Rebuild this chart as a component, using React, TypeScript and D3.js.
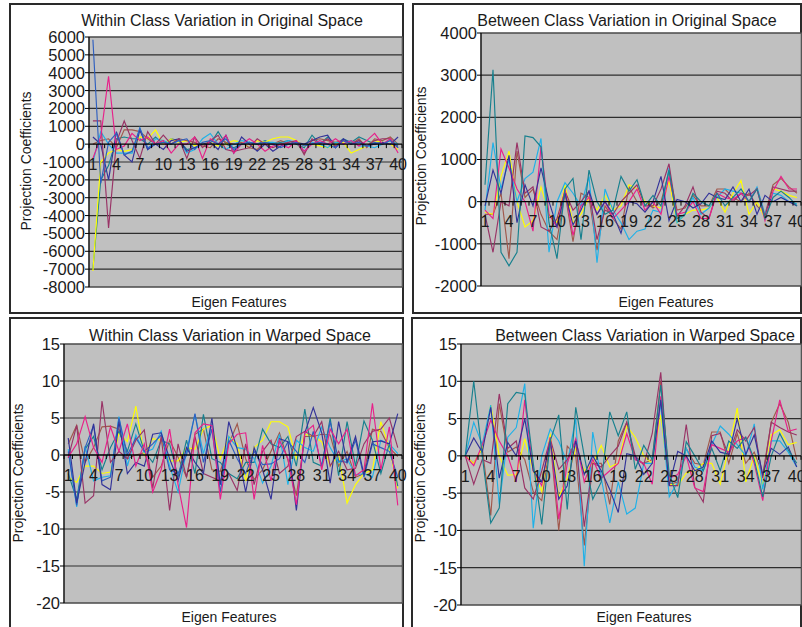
import React from 'react'
import * as d3 from 'd3'

// eigen feature index 1..40
const features = d3.range(1, 41)
const featureLabels = features.filter((d) => (d - 1) % 3 === 0)

const seriesColors: Record<string, string> = {
  navy: '#333399',
  blue: '#2f5fbf',
  magenta: '#e8208a',
  yellow: '#ffff00',
  cyan: '#1fb1e8',
  teal: '#17808e',
  brown: '#a0584c',
  plum: '#993366',
}

// Within class variation, original space
const withinOrigTicks = [6000, 5000, 4000, 3000, 2000, 1000, 0, -1000, -2000, -3000, -4000, -5000, -6000, -7000, -8000]
const withinOrig: Record<string, number[]> = {
  teal: [-7000, -2000, -1200, 300, 400, 300, 300, 0, 400, 0, 300, 200, -300, -200, 0, 0, 700, 0, -200, 0, 100, 0, 200, 0, 100, 200, 0, -200, 500, 0, 400, 0, 300, 100, 400, 200, 0, 100, 0, -100],
  yellow: [-7100, -1000, -500, -300, -400, -300, 400, 300, 800, 0, 300, 100, 200, -100, 0, 100, -100, 0, 200, 100, -200, 200, 100, 300, 400, 400, 200, -100, 0, -100, -200, 0, 100, -500, -300, -100, 200, 100, 0, -300],
  brown: [0, 200, 300, -200, 800, 800, 700, 300, 0, 100, 0, 300, 200, 100, -100, -200, 300, 100, 0, 100, -200, -300, 100, 0, 200, 0, 100, -500, 200, 300, 200, 100, 200, 0, 300, -200, 300, 200, 400, 0],
  cyan: [-1000, 700, 0, -500, -500, -500, 900, -300, 300, 200, 0, 200, -500, -300, 300, 600, 0, -300, 0, 200, 100, 0, 100, 100, 0, 200, 100, -400, 100, 0, -200, 100, 0, 200, -100, -100, -200, 0, 200, 0],
  navy: [400, 0, -2000, 700, -600, -1000, 800, -300, 0, -300, 200, 300, -400, -200, 0, 100, -300, 500, -500, 400, 0, -400, 0, -400, -100, 0, 100, 0, 200, 400, 500, -200, 300, 0, 200, -100, 0, 100, 0, 400],
  plum: [1300, 1300, -4700, 100, 1300, 200, -800, 700, 0, 500, 0, 300, -800, 400, -200, 200, 500, -300, -400, -300, -200, 300, 0, -200, 0, 100, 200, -600, 300, 0, 300, -100, 200, 0, 200, -100, 200, 300, 300, -200],
  magenta: [-800, 400, 3800, -300, -100, 600, 200, 400, 0, 200, -500, 0, 0, 400, -800, 300, 0, 500, -500, 0, 300, 0, -400, -100, 0, -200, 200, -400, 0, 200, 0, 300, 0, 200, -100, 200, 600, 0, 300, -500],
  blue: [5850, -2200, 100, 600, -600, -400, 900, -200, 0, 100, 0, 200, 300, -300, 100, 200, 0, 300, -300, 0, 100, 0, 100, 0, -200, 0, 100, -100, 0, 100, 0, -200, 200, 0, 100, -100, 100, 0, 200, -200],
}

// Between class variation, original space
const betweenOrigTicks = [4000, 3000, 2000, 1000, 0, -1000, -2000]
const betweenOrig: Record<string, number[]> = {
  brown: [-300, -300, 200, -1350, 1200, 100, 300, -300, -700, -900, 200, -950, 200, 100, -1150, -100, -400, -650, 350, 0, 0, -150, 0, 700, -200, -150, 150, -100, -100, 300, 300, 100, 0, 200, -100, -300, 400, 550, 350, 200],
  yellow: [-250, -300, 600, 1200, 0, -600, -450, 350, -300, -500, 400, -500, -300, 100, -200, 150, -200, -100, 400, 300, 0, -100, -150, 500, -500, -300, -200, -200, -150, 100, -250, 200, 500, -300, 0, -400, 300, 250, 150, 100],
  cyan: [-200, 1400, 300, 1000, 0, 550, 700, 1500, -1200, 0, 450, 200, -100, 600, -1450, 300, -200, -500, -900, -700, -650, -200, -250, 800, -500, -300, 100, -300, -150, 100, 300, 250, 200, 0, 350, -300, 200, 150, 0, -50],
  plum: [-300, -1200, 0, -100, 1400, 200, 350, -600, -700, -400, 250, -200, 0, 250, -900, -200, -300, 0, 200, 400, -100, -100, 300, 900, -350, -100, 350, -250, -400, 250, 200, 0, 200, 150, 300, -350, 350, 300, 250, 250],
  magenta: [-200, -400, 1250, 800, 300, 0, -700, 1300, -300, -600, 300, -800, -100, 100, -300, 0, -400, -200, 0, 300, -200, 0, -300, 600, -300, -250, 0, -400, -400, 200, 100, 50, 200, 0, 300, -450, 250, 600, 300, 300],
  navy: [-100, 750, 200, 1100, -500, 400, -100, 800, 0, -600, 200, -550, -200, 250, -300, 0, -300, -750, 0, -50, -250, 0, 600, -450, 50, 0, -150, -50, 200, 100, 50, 350, 0, 300, -300, 150, 0, 100, 0, -100],
  teal: [400, 3130, -1200, -1520, -1200, 1560, 1520, 1300, -500, -1350, 300, 550, -900, 750, 0, -300, -200, 600, 250, 520, -100, 150, -100, 750, -400, -300, 200, 0, -100, 200, -100, 100, 300, 0, 300, -400, 100, 250, 100, -100],
}

// Within class variation, warped space
const warpedTicks = [15, 10, 5, 0, -5, -10, -15, -20]
const withinWarp: Record<string, number[]> = {
  brown: [1.5, 4, -1, 1, 3.8, 3.9, 3.5, -0.5, 0, 0.3, -3, -1.5, 2, -0.3, -3, 2.8, 3.5, -2, -2.2, 1.5, 4.2, -0.5, -3.3, -2, 0.5, 3, -0.7, -5.5, 2.5, 2.5, 2.8, 2.7, -1.5, 0.5, -3, -2.5, 3.5, 3.2, 1, -0.2],
  yellow: [-3, -3.7, -1.5, -1.5, -2.5, -2.3, 3, 1.8, 6.6, 0, 2.2, 2, -0.8, -0.8, 1, 0.8, 3.5, 4, -0.5, 2.5, 1.5, -3.5, 1, 2, 4.5, 4.5, 3.8, -0.5, 2.8, 2.5, 1.8, -1.5, 0, -6.5, -4, -2.5, -2, 4.5, 1, -4.5],
  teal: [-2.5, -6, 0.8, 2.5, -2, 1, 3.2, 0.5, 4.2, 0.5, -1, 2, 1.5, -3, 2, -2.5, 5.5, -0.5, -1, -2.5, -3.2, -1, -1, 3.5, 1.5, 1, 2.5, -1.5, 6.2, -1, -1.5, 5, -2.8, 4.5, -1.5, 4.6, 2, -2.5, 1.5, -4.2],
  cyan: [0.8, -7, 1.2, -3.5, -3, -2.8, 5.2, -1.5, 2.7, 0.3, 0.8, 3.2, -1.5, -5, 0.5, 5.5, 0.2, 4.2, -4, 2.5, 1, 0.8, -0.5, -3.8, -1.5, 2.8, -4, 2, 1, 0.5, 3.8, 1, -1, -0.5, -2.7, -2.5, -3, 2, 1.5, 0.2],
  blue: [0.5, -6.8, 1, 4, -3.5, -3, 5, 0, 2.3, 0.5, 1.5, 2.7, -2, -2.5, 0, 5.6, -1, 3.5, -5, 2, -0.5, -2.5, 0.5, -1.3, -1.2, -0.5, 1.8, 0.5, -1, 3.2, -1.5, 4.5, -0.8, -1, 2, -3, 1.5, 1, 0.5, -3],
  plum: [-0.4, 4, -6.5, -5.5, 7.3, -1, 0.5, -0.5, 2, 3.4, -4.5, 2.5, -7.5, 1.5, -3, 2.5, -2.5, -3, -3.5, -2.5, -4.8, 1.5, -4, 0.5, 2, -2.5, -1.5, 2.5, 3.2, 2.5, 4.5, -1.5, 0.5, -2, -1.8, 1.5, 3.2, 3.5, 5, 1],
  navy: [2.3, -6.5, -1, 4.2, -4, -4.7, 4.5, -2.5, -1, -1.5, 2.8, 3, -0.5, -3.5, 1, -1, -2.5, 5, -4, 4.5, 0.8, -5, 1, -2, -6, 2.2, 1.8, -7.5, 3, 6.4, 3, -3.8, 4.5, -1, 2.5, -2.7, 1.8, 1.9, 1.5, 5.6],
  magenta: [-0.3, 1.5, 5.2, 1, -1, 3.8, 0.5, 4.2, -1.5, 1.5, -5, -2, 3.5, -4, -9.8, 3, 4.2, 4, -6, 1.5, 2.8, 3, -6, 1.3, -3.5, 2, -0.5, -6.7, 3, 4, -2, 3.5, 1.5, 3.5, -2.8, -2, 7, -2, 3.8, -6.8],
}

// Between class variation, warped space
const betweenWarp: Record<string, number[]> = {
  brown: [0, -1, 1, -8, 7, 0.5, 1.2, -0.5, -4.8, -6, 2, -10, 1.3, 0, -12, -1, -1, -6.5, 2, 4.5, -0.5, -1, -0.5, 10, -3.8, -3.5, 1, -1, -1.2, 3.2, 3.2, -1, 3, -1, 0.5, -2.5, 4.5, 7, 4.5, -0.5],
  yellow: [0, -1, 1, 6.8, 0, -2.6, -2.5, 2.3, -2, -4.8, 3, -5.5, -3, 1, -2, -1, 1.4, -1.5, -1, 4, 2.5, 0, -1, 5.5, -3.8, -4, -2.3, -2, -1, -1, -3.8, 1, 6.4, -3.5, 0, -4, 2.8, 3.5, 1.5, 1.8],
  cyan: [0, 4.5, 1.5, 6.8, -6.5, 2.5, 3.8, 9.7, -9.7, 0, 3.6, 2, -1, 5, -14.8, 3.2, -3, -9, -3.5, -7.8, -7, -1, -1, 7, -5.5, -3.5, 1, -1.5, -2, 1.5, 4, 2.9, 1.5, 0, 4.3, -4.5, 2, 2, 0.5, -1.5],
  plum: [0, -3.8, -0.5, -1, 8.3, 1, 2, -4.3, -5.8, -2, 2.3, -1.8, -0.5, 2, -9.5, -1, -1.5, 0, 1.3, 4.5, 0, -1.2, 3, 11.2, -4, -4, 4.2, -4.2, -6.2, 2.7, 3, 0, 3.5, 2, 3.8, -3, 4.5, 3.8, 3.2, 2.8],
  magenta: [0, -1.3, 1.5, 4.8, 2, 0, -3.5, 7.5, -2, -4, 2.5, -8.5, -1, 2.3, -3.5, -0.5, -3, -2, -1, 3, -0.5, -1, -3.8, 8, -3, -2.5, 0, -4.3, -4.8, 1.5, 1, 0.5, 2, 2.5, -1, -6, 2, 7.5, 3.3, 3.6],
  navy: [0, 2.4, 0.5, 6.5, -3, 1.8, 0, 5, -2, -3.5, 2, -5.8, -4, 2, -2.5, 0, -2, -4.5, -7.6, 0.3, 0, -2.5, -1, 7.5, -4, 0.6, 0, -2, -1.5, 2, 0.5, 0.2, 5, 0.2, 2.8, -2.5, 1, 0.2, 1.2, -1.5],
  teal: [0, 10, 0, -9, -7, 7, 8.5, 8.3, -1, -9.2, 2, 5.5, -7.2, 6.5, 0, -5.8, -3.5, 5.9, 2.7, 5.9, -1.8, 1.4, -0.5, 9.5, -2.5, -5.6, 1.9, 0, -2, 1, -2, 2, 1, 2.5, -0.5, -5.5, 0, 3, 0.8, -1],
}

const FONT = '"Liberation Sans", Arial, sans-serif'

type PanelProps = {
  title: string
  series: Record<string, number[]>
  ticks: number[]
  frame: [number, number, number, number]
  plot: { l: number; r: number; t: number; b: number }
  titleX: number
  titleY: number
  yTitleX: number
  yTitleY: number
  xTitleX: number
  xTitleY: number
}

function Panel(p: PanelProps) {
  const { l, r, t, b } = p.plot
  const x = d3.scalePoint<number>().domain(features).range([l, r]).padding(0.5)
  const step = x.step()
  const y = d3.scaleLinear().domain(d3.extent(p.ticks) as [number, number]).range([b, t])
  const line = d3.line<number>().x((d, i) => x(features[i])!).y((d) => y(d))
  const y0 = y(0)

  return (
    <g>
      <rect x={p.frame[0]} y={p.frame[1]} width={p.frame[2]} height={p.frame[3]} fill="#fff" stroke="#2a2a2a" strokeWidth={2} />
      <rect x={l} y={t} width={r - l} height={b - t} fill="#c0c0c0" stroke="#808080" strokeWidth={1} />
      {p.ticks.map((v) => (
        <g key={v}>
          <line x1={l} x2={r} y1={y(v)} y2={y(v)} stroke={v === 0 ? 'none' : '#2e2e2e'} strokeWidth={1.2} />
          <line x1={l - 4} x2={l} y1={y(v)} y2={y(v)} stroke="#000" />
          <text x={l - 4} y={y(v)} dy="0.36em" textAnchor="end" fontSize={16.5} fill="#1a1a1a">{v}</text>
        </g>
      ))}
      <line x1={l} x2={l} y1={t} y2={b} stroke="#000" strokeWidth={1.2} />
      {Object.entries(p.series).map(([k, vals]) => (
        <path key={k} d={line(vals) ?? ''} fill="none" stroke={seriesColors[k]} strokeWidth={1.15} />
      ))}
      <line x1={l} x2={r} y1={y0} y2={y0} stroke="#000" strokeWidth={1.3} />
      {d3.range(features.length + 1).map((i) => (
        <line key={i} x1={l + i * step} x2={l + i * step} y1={y0} y2={y0 + 4} stroke="#000" />
      ))}
      {featureLabels.map((f) => (
        <text key={f} x={x(f)} y={y0 + 20} dy="0.36em" textAnchor="middle" fontSize={16} fill="#1a1a1a">{f}</text>
      ))}
      <text x={p.titleX} y={p.titleY} dy="0.35em" textAnchor="middle" fontSize={16} fill="#1a1a1a">{p.title}</text>
      <text transform={`translate(${p.yTitleX},${p.yTitleY}) rotate(-90)`} dy="0.35em" textAnchor="middle" fontSize={14} fill="#1a1a1a">Projection Coefficients</text>
      <text x={p.xTitleX} y={p.xTitleY} dy="0.35em" textAnchor="middle" fontSize={14} fill="#1a1a1a">Eigen Features</text>
    </g>
  )
}

export default function App() {
  return (
    <svg width={802} height={627} style={{ position: 'absolute', left: 0, top: 0, fontFamily: FONT }}>
      <rect width={802} height={627} fill="#fff" />
      <Panel title="Within Class Variation in Original Space" series={withinOrig} ticks={withinOrigTicks}
        frame={[10, 4, 393, 309]} plot={{ l: 89, r: 402, t: 37, b: 287 }}
        titleX={222} titleY={20} yTitleX={26} yTitleY={161} xTitleX={239} xTitleY={302} />
      <Panel title="Between Class Variation in Original Space" series={betweenOrig} ticks={betweenOrigTicks}
        frame={[413, 4, 388, 309]} plot={{ l: 481, r: 801, t: 33, b: 286 }}
        titleX={627} titleY={20} yTitleX={421} yTitleY={156} xTitleX={666} xTitleY={302} />
      <Panel title="Within Class Variation in Warped Space" series={withinWarp} ticks={warpedTicks}
        frame={[10, 318, 393, 320]} plot={{ l: 64, r: 402, t: 344, b: 603 }}
        titleX={230} titleY={335} yTitleX={18} yTitleY={473} xTitleX={229} xTitleY={617} />
      <Panel title="Between Class Variation in Warped Space" series={betweenWarp} ticks={warpedTicks}
        frame={[412, 318, 389, 320]} plot={{ l: 461, r: 801, t: 344, b: 605 }}
        titleX={645} titleY={335} yTitleX={420} yTitleY={473} xTitleX={644} xTitleY={617} />
    </svg>
  )
}
